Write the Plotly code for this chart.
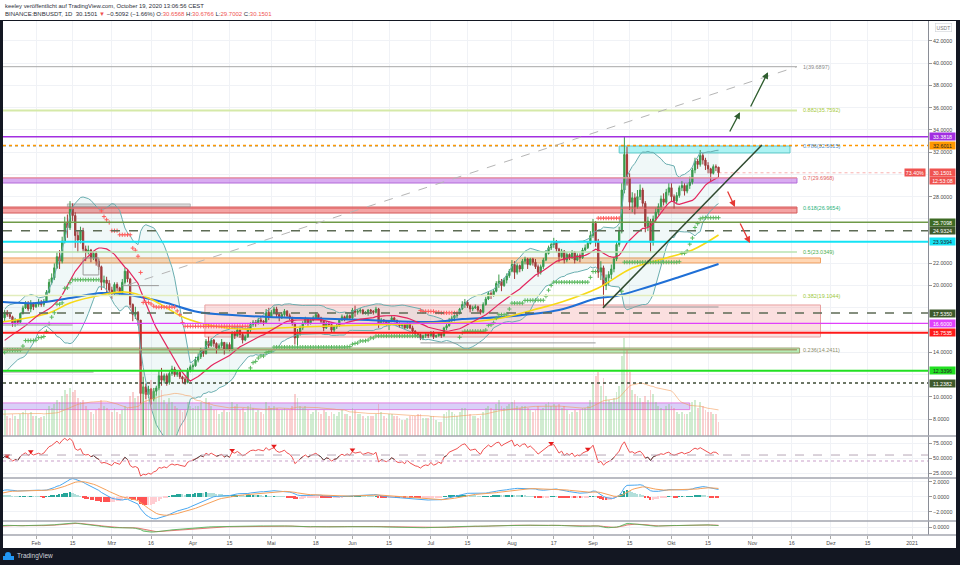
import numpy as np
import pandas as pd
import plotly.graph_objects as go

W, H = 960, 565
def PX(x): return x / W
def PY(y): return 1 - y / H

# ---------------- data (daily BNB/USDT) ----------------
first_open = 13.80
close_jan = [13.69,13.03,13.67,13.90,14.04,14.60,14.87,14.37,13.90,14.49,14.15,14.50,14.48,16.15,16.05,16.24,17.30,17.40,17.10,17.60,17.40,17.20,16.60,16.90,16.70,17.50,18.00,18.40,17.90,18.40,18.10]
high_jan = [13.90,13.75,13.85,14.00,14.30,14.70,15.05,15.20,14.45,14.60,14.70,14.60,14.60,16.40,16.90,16.50,17.70,17.80,17.60,17.80,17.80,17.60,17.30,17.10,17.00,17.60,18.20,18.60,18.60,18.70,18.50]
low_jan = [13.50,12.90,12.95,13.55,13.80,13.95,14.40,14.20,13.75,13.70,14.00,14.05,14.25,14.40,15.70,15.80,16.10,17.00,16.90,16.80,17.20,17.00,16.30,16.30,16.50,16.60,17.40,17.90,17.70,17.60,17.80]
close_feb = [18.30,18.50,18.30,18.60,19.40,20.30,20.70,21.60,22.60,22.20,24.00,25.60,25.20,26.90,26.30,24.50,24.10,24.90,23.30,23.00,23.20,22.50,22.90,22.20,21.70,20.30,20.50,20.20,19.60]
high_feb = [18.50,18.80,18.70,18.80,19.60,20.60,21.10,22.00,23.00,23.20,24.40,26.20,26.40,27.60,27.40,26.60,24.90,25.30,25.20,23.60,23.60,23.30,23.10,23.10,22.40,21.80,20.90,20.80,20.50]
low_feb = [18.00,18.10,18.10,18.10,18.50,19.30,20.10,20.50,21.50,21.50,22.00,23.80,24.30,25.00,25.80,23.40,23.00,23.80,23.00,22.20,22.80,22.10,22.30,21.80,21.40,19.60,19.80,19.30,19.40]
close_mar = [19.30,20.10,19.80,19.40,20.30,21.30,20.60,18.30,17.40,17.60,16.90,10.30,10.90,10.20,10.70,9.80,10.50,10.80,11.90,11.50,11.90,11.30,12.10,12.50,12.00,12.20,11.80,11.60,11.30,12.40,12.70]
high_mar = [19.90,20.30,20.30,19.90,20.60,21.60,21.50,20.70,18.40,18.10,17.70,16.90,11.80,11.20,11.00,10.80,10.80,11.00,12.40,12.60,12.10,12.10,12.30,12.80,12.70,12.40,12.40,11.90,11.80,12.60,12.90]
low_mar = [18.80,19.10,19.50,19.10,19.30,20.10,20.30,18.00,16.80,17.00,16.40,9.40,6.38,9.80,9.90,9.30,9.60,10.10,10.60,11.00,11.20,11.00,11.10,11.90,11.80,11.80,11.60,11.20,11.10,11.20,12.20]
close_apr = [12.80,13.30,13.60,14.20,13.90,15.00,14.60,15.10,14.80,14.40,14.60,14.90,14.30,14.70,14.30,15.70,15.50,16.00,15.60,15.10,15.40,16.00,16.50,16.70,16.60,16.90,16.80,16.70,17.60,17.20]
high_apr = [13.00,13.60,13.90,14.40,14.30,15.20,15.40,15.30,15.20,14.90,14.80,15.20,14.90,14.90,14.90,15.90,15.90,16.20,16.10,15.80,15.60,16.20,16.70,16.90,16.90,17.10,17.10,16.90,17.90,18.00]
low_apr = [12.30,12.70,13.10,13.40,13.60,13.80,14.40,14.50,14.50,13.90,14.20,14.40,13.80,14.20,14.10,14.10,15.20,15.40,15.30,14.80,15.00,15.30,15.80,16.30,16.30,16.50,16.60,16.40,16.60,16.90]
close_may = [17.60,17.90,17.40,17.20,17.40,17.70,17.30,17.10,16.60,15.30,15.70,16.20,16.60,17.00,16.60,16.90,17.10,17.40,17.10,16.80,16.20,16.60,16.50,16.00,16.30,16.40,16.90,17.20,17.00,17.30,17.10]
high_may = [17.80,18.10,18.10,17.50,17.60,17.90,17.80,17.50,17.20,16.70,16.10,16.40,16.80,17.20,17.10,17.00,17.30,17.60,17.50,17.20,16.90,16.80,16.80,16.70,16.40,16.60,17.00,17.40,17.30,17.50,17.40]
low_may = [17.10,17.40,17.10,16.80,17.00,17.20,17.10,16.90,16.40,14.70,14.60,15.50,16.00,16.50,16.40,16.50,16.80,17.00,16.90,16.60,15.90,16.10,16.30,15.80,15.80,16.10,16.30,16.80,16.80,16.90,16.90]
close_jun = [17.80,17.60,17.70,17.80,17.50,17.60,17.80,17.70,17.60,17.90,16.60,16.90,16.80,16.60,16.80,17.10,16.90,16.50,16.40,16.50,16.20,16.60,16.20,15.90,15.70,15.60,15.30,15.50,15.60,15.50]
high_jun = [18.00,18.20,17.90,18.00,17.90,17.70,17.90,17.90,17.80,18.10,18.00,17.10,17.00,16.90,16.90,17.30,17.20,16.90,16.70,16.60,16.60,16.70,16.70,16.40,16.00,15.80,15.70,15.60,15.80,15.70]
low_jun = [17.00,17.20,17.40,17.50,17.40,17.40,17.30,17.50,17.40,17.50,16.20,16.50,16.60,16.40,16.00,16.70,16.70,16.40,16.20,16.20,16.10,16.10,16.10,15.70,15.40,15.30,15.10,15.10,15.30,15.30]
close_jul = [15.80,15.40,15.50,15.70,15.50,16.20,16.40,16.90,17.10,17.30,17.50,17.90,18.30,18.50,18.20,17.90,18.00,18.10,17.80,17.60,18.30,18.80,19.30,19.10,19.50,20.20,20.40,20.00,20.50,20.90,21.30]
high_jul = [15.90,15.90,15.60,15.80,15.70,16.30,16.60,17.10,17.30,17.40,17.60,18.00,18.60,18.80,18.70,18.30,18.20,18.30,18.20,17.90,18.50,19.00,19.50,19.50,19.70,20.40,21.00,20.60,20.70,21.10,21.50]
low_jul = [15.40,15.20,15.30,15.40,15.30,15.40,16.00,16.30,16.60,16.80,17.10,17.40,17.80,18.00,18.00,17.60,17.70,17.90,17.60,17.40,17.50,18.20,18.70,18.80,19.00,19.40,19.80,19.50,19.90,20.20,20.70]
close_aug = [21.90,21.20,21.80,21.50,22.20,22.40,21.90,22.40,22.10,21.70,21.20,21.70,22.30,22.90,23.40,23.70,23.90,23.30,22.60,23.10,22.30,22.80,22.50,23.00,22.30,22.70,22.50,23.20,23.40,23.80,24.50]
high_aug = [22.30,22.20,22.00,21.90,22.40,22.60,22.50,22.50,22.50,22.40,21.90,21.90,22.50,23.20,23.60,23.90,24.30,24.10,23.40,23.30,23.20,23.00,22.90,23.20,23.10,22.90,22.90,23.40,23.70,24.00,24.90]
low_aug = [21.20,20.60,21.00,21.20,21.30,21.90,21.50,21.80,21.80,21.50,20.80,21.00,21.50,22.20,22.80,23.20,23.40,23.00,22.10,22.50,22.00,22.10,22.30,22.40,22.00,22.20,22.10,22.40,23.10,23.30,23.70]
close_sep = [25.60,24.00,21.20,21.60,20.00,20.70,21.00,21.50,22.40,23.70,24.90,28.60,31.80,29.70,27.50,27.90,27.10,28.00,28.60,27.40,25.30,25.80,23.90,26.00,26.60,27.10,27.80,27.50,28.40,28.80]
high_sep = [26.00,25.80,24.20,22.20,21.80,21.00,21.30,21.90,22.60,24.00,25.30,29.20,33.40,32.50,30.10,28.40,28.30,28.60,29.10,28.80,27.60,26.20,26.00,26.30,27.00,27.40,28.10,28.30,28.70,29.20]
low_sep = [24.30,23.50,20.70,20.50,18.20,19.60,20.00,20.60,21.20,22.20,23.50,24.70,28.30,29.00,26.80,26.60,26.40,26.90,27.70,27.10,24.80,24.90,23.00,23.60,25.70,26.30,26.80,27.20,27.30,28.10]
close_oct = [28.00,27.60,28.10,28.80,29.00,28.50,29.00,29.30,30.40,31.20,30.90,31.70,31.30,30.80,30.50,30.10,30.70,30.6568,30.1501]
high_oct = [29.20,28.20,28.40,29.00,29.40,29.20,29.20,29.80,30.60,31.50,31.40,32.20,31.90,31.50,31.10,30.60,30.90,30.90,30.6766]
low_oct = [27.60,26.90,27.40,27.90,28.50,28.10,28.30,28.70,29.10,30.10,30.50,30.70,30.90,30.40,30.10,29.40,30.00,30.30,29.7002]

vol_jan = [18,17,20,19,17,22,24,22,20,21,18,17,18,30,28,24,30,26,24,26,20,18,22,20,17,22,24,26,22,24,20]
vol_feb = [20,18,19,20,26,30,28,32,36,34,40,46,42,48,44,46,38,34,36,30,26,24,22,26,28,36,30,28,26]
vol_mar = [24,28,24,22,26,30,28,40,44,38,40,70,66,44,40,56,48,42,50,46,36,32,38,34,30,28,26,24,26,34,30]
vol_apr = [28,30,30,34,26,38,34,30,26,26,22,24,26,24,24,34,30,32,26,28,24,30,32,28,24,26,24,22,34,30]
vol_may = [28,30,28,26,26,28,26,26,30,42,38,30,28,30,26,22,24,26,24,22,26,24,20,24,22,20,24,26,22,22,20]
vol_jun = [28,26,22,22,20,18,20,20,20,22,32,24,20,18,22,22,20,20,18,16,16,18,20,20,20,22,22,18,18,18]
vol_jul = [20,20,16,14,14,22,24,26,24,22,20,24,28,28,26,22,20,20,18,20,24,28,30,28,26,32,36,30,28,30,32]
vol_aug = [34,36,30,28,30,30,28,26,24,26,30,26,28,32,34,30,32,30,32,28,30,26,22,24,26,24,26,28,28,30,36]
vol_sep = [52,60,64,50,58,40,36,34,38,44,50,80,98,86,64,46,42,40,38,34,40,36,46,42,34,30,28,26,30,32]
vol_oct = [30,28,24,22,24,22,22,24,34,36,28,34,30,26,24,24,22,22,14]

# long moving averages (need pre-2020 history)
ma200_dates = ['2020-01-19','2020-02-01','2020-02-14','2020-02-26','2020-03-05','2020-03-12','2020-03-22','2020-04-03','2020-04-16','2020-04-30','2020-05-12','2020-06-07','2020-07-02','2020-07-13','2020-07-28','2020-08-19','2020-09-03','2020-09-10','2020-09-22','2020-10-04','2020-10-19']
ma200_vals = [18.53,18.44,18.89,19.34,19.25,18.98,18.44,17.63,17.36,17.18,17.09,16.91,16.73,17.00,17.18,17.81,18.89,19.07,19.88,20.78,21.95]
ma100_dates = ['2020-01-19','2020-02-06','2020-02-14','2020-02-26','2020-03-06','2020-03-15','2020-03-29','2020-04-09','2020-04-19','2020-05-12','2020-06-07','2020-07-02','2020-07-16','2020-07-28','2020-08-09','2020-08-20','2020-09-03','2020-09-16','2020-09-29','2020-10-09','2020-10-19']
ma100_vals = [16.73,17.54,18.44,19.16,19.43,18.89,17.09,16.37,16.10,16.28,16.46,16.64,16.73,17.09,17.81,18.53,19.79,21.59,22.49,23.20,24.55]

# horizontal levels
level_prices = [33.3818, 32.6011, 25.7098, 24.9324, 23.9394, 17.5350, 16.6000, 15.7535, 12.3396, 11.2382]
level_colors = ['#a22fe0', '#ff9800', '#6f9a48', '#5d6b55', '#14e3f5', '#5d6b55', '#e040fb', '#ff1a1a', '#22e022', '#3d4a33']
level_dash = ['solid', 'dot', 'solid', 'dash', 'solid', 'dash', 'solid', 'solid', 'solid', 'dot']
level_width = [1.5, 1.3, 1.5, 1.6, 2, 1.6, 1.3, 2, 2, 1.6]
label_bg = ['#a22fe0', '#ff9800', '#3e6a24', '#3e5a2c', '#14e3f5', '#3e5a2c', '#e040fb', '#ff1a1a', '#22e022', '#3e5a2c']
label_fg = ['white', '#222', 'white', 'white', '#222', 'white', 'white', 'white', '#222', 'white']

# fibonacci levels
fib_ratio = ['1', '0.882', '0.786', '0.7', '0.618', '0.5', '0.382', '0.236']
fib_price = [39.6897, 35.7592, 32.5615, 29.6968, 26.9654, 23.0349, 19.1044, 14.2411]
fib_line = ['#a8a8a8', '#d5e9a8', '#6fa8dc', '#f19c9c', '#e06666', '#b8e3b0', '#e2edbd', '#a8a070']
fib_lw = [1, 2, 1.2, 1.2, 1, 1.5, 1.5, 1.5]
fib_dash = ['solid', 'solid', 'dot', 'solid', 'solid', 'solid', 'solid', 'solid']
fib_text = ['#8a8a8a', '#a6c93a', '#4a8ccc', '#e06666', '#2ab27b', '#4caf50', '#9cc83a', '#8c8c6a']

tick_dates = ['2020-02-01','2020-02-15','2020-03-01','2020-03-16','2020-04-01','2020-04-15','2020-05-01','2020-05-18','2020-06-01','2020-06-15','2020-07-01','2020-07-15','2020-08-01','2020-08-17','2020-09-01','2020-09-15','2020-10-01','2020-10-15','2020-11-01','2020-11-16','2020-12-01','2020-12-15','2021-01-01']
tick_text = ['Feb','15','Mrz','16','Apr','15','Mai','18','Jun','15','Jul','15','Aug','17','Sep','15','Okt','15','Nov','16','Dez','15','2021']
price_ticks = [8, 10, 14, 20, 22, 28, 32, 34, 36, 38, 40, 42]
rsi_marker_dates = ['2020-01-21','2020-01-30','2020-04-16','2020-05-02','2020-06-01','2020-08-16','2020-08-30']

# ---------------- assemble ----------------
close = close_jan + close_feb + close_mar + close_apr + close_may + close_jun + close_jul + close_aug + close_sep + close_oct
high = high_jan + high_feb + high_mar + high_apr + high_may + high_jun + high_jul + high_aug + high_sep + high_oct
low = low_jan + low_feb + low_mar + low_apr + low_may + low_jun + low_jul + low_aug + low_sep + low_oct
volume = vol_jan + vol_feb + vol_mar + vol_apr + vol_may + vol_jun + vol_jul + vol_aug + vol_sep + vol_oct
dates = pd.date_range('2020-01-01', periods=len(close), freq='D')
open_ = [first_open] + close[:-1]
n = len(close)

s = pd.Series(close, index=dates)
hs = pd.Series(high, index=dates)
ls = pd.Series(low, index=dates)

basis = s.rolling(20).mean()
sd = s.rolling(20).std(ddof=0)
bb_up = basis + 2 * sd
bb_lo = basis - 2 * sd

# supertrend (ATR 10, factor 4)
tr = pd.concat([hs - ls, (hs - s.shift()).abs(), (ls - s.shift()).abs()], axis=1).max(axis=1)
atr = tr.ewm(alpha=1 / 10, adjust=False).mean()
hl2 = (hs + ls) / 2
ub = (hl2 - 4 * atr).values
db = (hl2 + 4 * atr).values
c = s.values
up = ub.copy(); dn = db.copy(); trend = np.ones(n)
for i in range(1, n):
    up[i] = max(ub[i], up[i - 1]) if c[i - 1] > up[i - 1] else ub[i]
    dn[i] = min(db[i], dn[i - 1]) if c[i - 1] < dn[i - 1] else db[i]
    if trend[i - 1] == -1 and c[i] > dn[i - 1]:
        trend[i] = 1
    elif trend[i - 1] == 1 and c[i] < up[i - 1]:
        trend[i] = -1
    else:
        trend[i] = trend[i - 1]
st_up = np.where(trend == 1, up, np.nan)
st_dn = np.where(trend == -1, dn, np.nan)

# RSI
delta = s.diff()
g = delta.clip(lower=0).ewm(alpha=1 / 14, adjust=False).mean()
lsv = (-delta.clip(upper=0)).ewm(alpha=1 / 14, adjust=False).mean()
rsi = 100 - 100 / (1 + g / lsv)
rsi_gray = rsi.where((rsi >= 45) & (rsi <= 55))

# MACD
macd = s.ewm(span=12, adjust=False).mean() - s.ewm(span=26, adjust=False).mean()
sig = macd.ewm(span=9, adjust=False).mean()
hist = (macd - sig).values
hcol = []
for i in range(n):
    prev = hist[i - 1] if i > 0 else 0
    if hist[i] >= 0:
        hcol.append('#26a69a' if hist[i] >= prev else '#b2dfdb')
    else:
        hcol.append('#ff5252' if hist[i] < prev else '#ffcdd2')

# oscillator (bottom pane)
ao = hl2.ewm(span=5, adjust=False).mean() - hl2.ewm(span=34, adjust=False).mean()
ao_sig = ao.ewm(span=5, adjust=False).mean()

vol_ma = pd.Series(volume, index=dates).rolling(20, min_periods=1).mean()
UP, DN = '#3a9a48', '#a83434'
vcol = ['rgba(120,200,120,0.35)' if close[i] >= open_[i] else 'rgba(240,120,120,0.35)' for i in range(n)]

DAY = 86400000
fig = go.Figure()
sk = dict(hoverinfo='skip', showlegend=False)

# Bollinger bands
fig.add_trace(go.Scatter(x=dates, y=bb_up, mode='lines', line=dict(color='#6aaeb0', width=1), **sk))
fig.add_trace(go.Scatter(x=dates, y=bb_lo, mode='lines', line=dict(color='#6aaeb0', width=1),
                         fill='tonexty', fillcolor='rgba(40,150,150,0.07)', **sk))
# MAs
fig.add_trace(go.Scatter(x=ma200_dates, y=ma200_vals, mode='lines', line=dict(color='#1f6fd6', width=2, shape='spline'), **sk))
fig.add_trace(go.Scatter(x=ma100_dates, y=ma100_vals, mode='lines', line=dict(color='#f7d916', width=1.6, shape='spline'), **sk))
fig.add_trace(go.Scatter(x=dates, y=basis, mode='lines', line=dict(color='#e3265e', width=1.2), **sk))
# supertrend dots
fig.add_trace(go.Scatter(x=dates, y=st_up, mode='markers',
                         marker=dict(symbol='cross-thin', size=3, line=dict(color='#5cb860', width=1)), **sk))
fig.add_trace(go.Scatter(x=dates, y=st_dn, mode='markers',
                         marker=dict(symbol='cross-thin', size=3, line=dict(color='#ff5c5c', width=1)), **sk))
# candles
fig.add_trace(go.Candlestick(x=dates, open=open_, high=high, low=low, close=close,
                             increasing=dict(line=dict(color=UP, width=1), fillcolor=UP),
                             decreasing=dict(line=dict(color=DN, width=1), fillcolor=DN),
                             whiskerwidth=0, **sk))
# volume overlay
fig.add_trace(go.Bar(x=dates, y=volume, marker=dict(color=vcol, line=dict(width=0)), width=DAY * 0.7, yaxis='y2', **sk))
fig.add_trace(go.Scatter(x=dates, y=vol_ma, mode='lines', line=dict(color='rgba(245,150,80,0.7)', width=0.8), yaxis='y2', **sk))

# RSI pane
fig.add_trace(go.Scatter(x=dates, y=rsi, mode='lines', line=dict(color='#f05050', width=1), xaxis='x2', yaxis='y3', **sk))
fig.add_trace(go.Scatter(x=dates, y=rsi_gray, mode='lines', line=dict(color='#555555', width=1), xaxis='x2', yaxis='y3', **sk))
mk = pd.to_datetime(rsi_marker_dates)
fig.add_trace(go.Scatter(x=mk, y=rsi.reindex(mk).values + 3, mode='markers',
                         marker=dict(symbol='triangle-down', size=5, color='#e51a1a'), xaxis='x2', yaxis='y3', **sk))
# MACD pane
fig.add_trace(go.Bar(x=dates, y=hist, marker=dict(color=hcol, line=dict(width=0)), width=DAY * 0.7, xaxis='x3', yaxis='y4', **sk))
fig.add_trace(go.Scatter(x=dates, y=macd, mode='lines', line=dict(color='#4aa8f0', width=1), xaxis='x3', yaxis='y4', **sk))
fig.add_trace(go.Scatter(x=dates, y=sig, mode='lines', line=dict(color='#f6a15a', width=1), xaxis='x3', yaxis='y4', **sk))
# bottom oscillator pane
fig.add_trace(go.Scatter(x=dates, y=ao_sig, mode='lines', line=dict(color='#e85a5a', width=0.8), xaxis='x4', yaxis='y5', **sk))
fig.add_trace(go.Scatter(x=dates, y=ao, mode='lines', line=dict(color='#4caf50', width=0.8), xaxis='x4', yaxis='y5',
                         fill='tonexty', fillcolor='rgba(76,175,80,0.25)',
                         fillpattern=dict(shape='+', fgcolor='rgba(76,175,80,0.7)', size=3, solidity=0.2), **sk))

shapes = []
def hline(p, color, width, dash, layer='above'):
    shapes.append(dict(type='line', xref='x domain', yref='y', x0=0, x1=1, y0=p, y1=p,
                       line=dict(color=color, width=width, dash=dash), layer=layer))

# bands / boxes
bands = [
    ('2020-01-01', '2020-11-18', 29.23, 29.68, 'rgba(186,104,230,0.55)', '#b36ad9'),
    ('2020-01-01', '2020-11-18', 26.53, 27.07, 'rgba(235,90,90,0.55)', '#d45a5a'),
    ('2020-01-01', '2020-11-27', 22.04, 22.49, 'rgba(255,183,120,0.55)', '#f0a060'),
    ('2020-04-05 14:00', '2020-11-27', 15.38, 18.26, 'rgba(240,130,130,0.26)', '#e8a0a0'),
    ('2020-01-01', '2020-11-19', 13.94, 14.39, 'rgba(110,220,110,0.5)', '#a0a070'),
    ('2020-09-11', '2020-11-15 08:00', 31.93, 32.56, 'rgba(120,235,235,0.6)', '#5cc8c8'),
    ('2020-01-01', '2020-10-08', 8.85, 9.45, 'rgba(170,150,240,0.45)', '#e080e0'),
    ('2020-02-13', '2020-03-31', 27.07, 27.35, 'rgba(150,150,150,0.35)', 'rgba(150,150,150,0.6)'),
]
for x0, x1, y0, y1, fc, lc in bands:
    shapes.append(dict(type='rect', xref='x', yref='y', x0=x0, x1=x1, y0=y0, y1=y1,
                       fillcolor=fc, line=dict(color=lc, width=1), layer='between'))
# thin gray range drawings
gray_segs = [('2020-03-05', '2020-03-19', 20.0, 20.0), ('2020-01-01', '2020-02-15', 16.46, 16.46),
             ('2020-01-01', '2020-02-23', 12.23, 12.23), ('2020-06-27', '2020-09-02', 14.85, 14.85),
             ('2020-09-05', '2020-10-19', 18.08, 18.08)]
for x0, x1, y0, y1 in gray_segs:
    shapes.append(dict(type='line', xref='x', yref='y', x0=x0, x1=x1, y0=y0, y1=y1,
                       line=dict(color='#9a9a9a', width=1), layer='above'))
shapes.append(dict(type='rect', xref='x', yref='y', x0='2020-02-19', x1='2020-02-25', y0=20.96, y1=22.49,
                   line=dict(color='#9a9a9a', width=1), layer='above'))
# fib lines
for p, lc, lw, ds in zip(fib_price, fib_line, fib_lw, fib_dash):
    shapes.append(dict(type='line', xref='x', yref='y', x0='2020-01-01', x1='2020-11-18', y0=p, y1=p,
                       line=dict(color=lc, width=lw, dash=ds), layer='above'))
# horizontal levels
for p, col, w_, ds in zip(level_prices, level_colors, level_width, level_dash):
    hline(p, col, w_, ds)
# diagonal fib trend + trendline
shapes.append(dict(type='line', xref='x', yref='y', x0='2020-03-07', y0=20.06, x1='2020-11-18', y1=39.69,
                   line=dict(color='#b5b5b5', width=1, dash='dash'), layer='above'))
shapes.append(dict(type='line', xref='x', yref='y', x0='2020-09-04 19:00', y0=18.0, x1='2020-11-04 14:00', y1=32.65,
                   line=dict(color='#2f4a2f', width=1.5), layer='above'))
# current price line
shapes.append(dict(type='line', xref='x', yref='y', x0='2020-10-19', x1='2021-01-08', y0=close[-1], y1=close[-1],
                   line=dict(color='rgba(239,83,80,0.45)', width=1, dash='dot'), layer='above'))
# RSI band lines
shapes.append(dict(type='line', xref='x2 domain', yref='y3', x0=0, x1=1, y0=55, y1=55,
                   line=dict(color='#b6a6b6', width=1, dash='dash')))
shapes.append(dict(type='line', xref='x2 domain', yref='y3', x0=0, x1=1, y0=45, y1=45,
                   line=dict(color='#dcc0dc', width=1.5, dash='dot')))
# pane separators
for yy in [436, 478, 521, 535]:
    shapes.append(dict(type='line', xref='paper', yref='paper', x0=PX(3), x1=PX(956), y0=PY(yy), y1=PY(yy),
                       line=dict(color='#a3a6af', width=1.5)))
# frame
DARK = '#131722'
shapes += [
    dict(type='rect', xref='paper', yref='paper', x0=0, x1=1, y0=0, y1=PY(548), fillcolor=DARK, line=dict(width=0)),
    dict(type='rect', xref='paper', yref='paper', x0=0, x1=PX(3), y0=0, y1=PY(20), fillcolor=DARK, line=dict(width=0)),
    dict(type='rect', xref='paper', yref='paper', x0=PX(956), x1=1, y0=0, y1=PY(20), fillcolor=DARK, line=dict(width=0)),
    dict(type='rect', xref='paper', yref='paper', x0=0, x1=1, y0=PY(21), y1=PY(20), fillcolor=DARK, line=dict(width=0)),
    dict(type='circle', xref='paper', yref='paper', x0=PX(5), x1=PX(11), y0=PY(558), y1=PY(552), fillcolor='#2196f3', line=dict(width=0)),
    dict(type='rect', xref='paper', yref='paper', x0=PX(3), x1=PX(14), y0=PY(560), y1=PY(556), fillcolor='#2196f3', line=dict(width=0)),
]

# arrows
ann = []
arrows = [('2020-10-23', 33.73, '2020-10-27 05:00', 35.6, '#2f5e2f'),
          ('2020-10-31', 35.97, '2020-11-06 22:00', 39.2, '#2f5e2f'),
          ('2020-10-22 05:00', 28.6, '2020-10-25 07:00', 27.07, '#e53935'),
          ('2020-10-27', 25.72, '2020-10-31', 23.83, '#e53935')]
for tx, ty, hx, hy, col in arrows:
    ann.append(dict(x=hx, y=hy, ax=tx, ay=ty, xref='x', yref='y', axref='x', ayref='y', text='',
                    showarrow=True, arrowhead=2, arrowsize=1, arrowwidth=1.3, arrowcolor=col))

F = 'Liberation Sans'
for r, p, tc in zip(fib_ratio, fib_price, fib_text):
    ann.append(dict(x='2020-11-19 12:00', y=p, xref='x', yref='y', xanchor='left', yanchor='middle',
                    text=f'{r}({p:.4f})', showarrow=False, font=dict(family=F, size=5.5, color=tc)))
for p, bg, fg in zip(level_prices, label_bg, label_fg):
    ann.append(dict(x=PX(929), y=p, xref='paper', yref='y', xanchor='left', yanchor='middle',
                    text=f'{p:.4f}', showarrow=False, bgcolor=bg, width=25, height=7, borderpad=0,
                    font=dict(family=F, size=5.3, color=fg)))
ann.append(dict(x=PX(929), y=close[-1], xref='paper', yref='y', xanchor='left', yanchor='middle',
                text=f'{close[-1]:.4f}', showarrow=False, bgcolor='#ef5350', width=25, height=7, borderpad=0,
                font=dict(family=F, size=5.3, color='white')))
ann.append(dict(x=PX(929), y=close[-1], xref='paper', yref='y', xanchor='left', yanchor='middle', yshift=-8,
                text='12:53:08', showarrow=False, bgcolor='#ef5350', width=25, height=7, borderpad=0,
                font=dict(family=F, size=5.3, color='white')))
ann.append(dict(x=PX(926), y=close[-1], xref='paper', yref='y', xanchor='right', yanchor='middle',
                text='73.40%', showarrow=False, bgcolor='#ef5350', width=20, height=7, borderpad=0,
                font=dict(family=F, size=5.3, color='white')))
ann.append(dict(x=PX(943), y=PY(28), xref='paper', yref='paper', xanchor='center', yanchor='middle',
                text='USDT', showarrow=False, bgcolor='white', bordercolor='#cfd2d8', borderwidth=0.6, borderpad=1,
                font=dict(family=F, size=5, color='#777')))
R = '#ef5350'
hdr2 = ('BINANCE:BNBUSDT, 1D  30.1501 <span style="color:%s">▼</span> −0.5092 (−1.66%%) '
        'O:<span style="color:%s">30.6568</span> H:<span style="color:%s">30.6766</span> '
        'L:<span style="color:%s">29.7002</span> C:<span style="color:%s">30.1501</span>') % (R, R, R, R, R)
ann.append(dict(x=PX(3), y=PY(6), xref='paper', yref='paper', xanchor='left', yanchor='middle', showarrow=False,
                text='keeley veröffentlicht auf TradingView.com, October 19, 2020 13:06:56 CEST',
                font=dict(family=F, size=5.9, color='#2a2e39')))
ann.append(dict(x=PX(3), y=PY(14.5), xref='paper', yref='paper', xanchor='left', yanchor='middle', showarrow=False,
                text=hdr2, font=dict(family=F, size=6.0, color='#2a2e39')))
ann.append(dict(x=PX(15), y=PY(556), xref='paper', yref='paper', xanchor='left', yanchor='middle', showarrow=False,
                text='TradingView', font=dict(family=F, size=6.5, color='#d1d4dc')))

GRID = '#f0f2f6'
XR = ['2020-01-19 09:00', '2021-01-07 02:30']
xcommon = dict(type='date', range=XR, domain=[PX(3), PX(928)], showgrid=True, gridcolor=GRID, gridwidth=1,
               tickmode='array', tickvals=tick_dates, ticktext=tick_text, zeroline=False, automargin=False,
               showline=False, fixedrange=True)
ycommon = dict(side='right', showgrid=True, gridcolor=GRID, zeroline=False, automargin=False, showline=True,
               linecolor='#8a8d96', linewidth=1, ticks='outside', ticklen=3, tickcolor='#999',
               tickfont=dict(family=F, size=5.3, color='#4a4a4a'), fixedrange=True)
fig.update_layout(
    width=W, height=H, margin=dict(l=0, r=0, t=0, b=0), autosize=False,
    paper_bgcolor='white', plot_bgcolor='white', showlegend=False, hovermode=False,
    font=dict(family=F), bargap=0,
    xaxis=dict(**xcommon, anchor='y', showticklabels=False, rangeslider=dict(visible=False)),
    xaxis2=dict(**xcommon, anchor='y3', matches='x', showticklabels=False),
    xaxis3=dict(**xcommon, anchor='y4', matches='x', showticklabels=False),
    xaxis4=dict(**xcommon, anchor='y5', matches='x', showticklabels=True, ticks='outside', ticklen=3,
                tickcolor='#aaa', tickfont=dict(family=F, size=5.3, color='#4a4a4a')),
    yaxis=dict(**ycommon, domain=[PY(436), PY(20)], anchor='x', range=[6.478, 43.888],
               tickmode='array', tickvals=price_ticks, ticktext=[f'{v:.4f}' for v in price_ticks],
               minor=dict(tickmode='linear', tick0=0, dtick=2, showgrid=True, gridcolor=GRID, ticks='')),
    yaxis2=dict(overlaying='y', range=[0, 416], visible=False, fixedrange=True),
    yaxis3=dict(**ycommon, domain=[PY(478), PY(436)], anchor='x2', range=[16.7, 86.7],
                tickmode='array', tickvals=[25, 50, 75], ticktext=['25.0000', '50.0000', '75.0000']),
    yaxis4=dict(**ycommon, domain=[PY(521), PY(478)], anchor='x3', range=[-3.2, 2.53],
                tickmode='array', tickvals=[-2, 0, 2], ticktext=['−2.0000', '0.0000', '2.0000']),
    yaxis5=dict(**ycommon, domain=[PY(535), PY(521)], anchor='x4', range=[-10, 7.5],
                tickmode='array', tickvals=[0], ticktext=['0.0000']),
    shapes=shapes, annotations=ann,
)
fig.write_html('out.html', config={'displayModeBar': False})
